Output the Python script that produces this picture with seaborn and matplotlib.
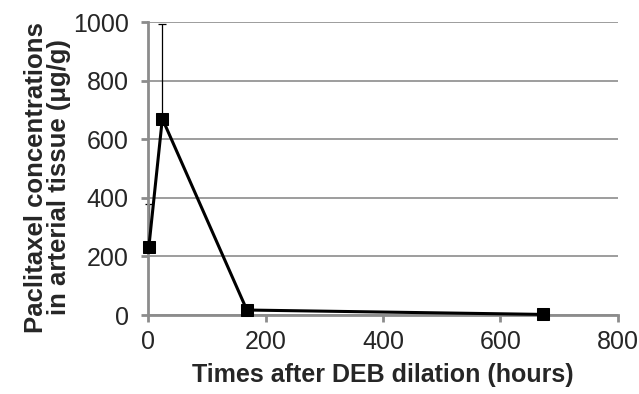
import numpy as np
import pandas as pd
import seaborn as sns
import matplotlib.pyplot as plt

# time after dilation (hours) and tissue concentration (ug/g)
hours = [1, 24, 168, 672]
conc = [232, 670, 17, 2]
err_upper = [148, 325, 0, 0]

df = pd.DataFrame({'hours': hours, 'conc': conc})

sns.set_style('white')
plt.rcParams['font.family'] = ['Liberation Sans', 'DejaVu Sans']

fig = plt.figure(figsize=(6.39, 3.94), dpi=100)
ax = fig.add_axes([0.232, 0.2005, 0.735, 0.7435])

grey = '#8c8c8c'
ax.yaxis.grid(True, color=grey, linewidth=1.2)
ax.set_axisbelow(True)

ax.errorbar(df['hours'], df['conc'], yerr=[np.zeros(len(df)), err_upper],
            fmt='none', ecolor='black', elinewidth=0.9, capsize=3,
            capthick=0.9, zorder=2)
sns.lineplot(data=df, x='hours', y='conc', ax=ax, color='black',
             linewidth=2.2, marker='s', markersize=8, markeredgecolor='black',
             zorder=3)
for ln in ax.lines:
    ln.set_clip_on(False)

ax.set_xlim(0, 800)
ax.set_ylim(0, 1000)
ax.set_xticks(range(0, 801, 200))
ax.set_yticks(range(0, 1001, 200))

for side in ['top', 'right']:
    ax.spines[side].set_visible(False)
for side in ['left', 'bottom']:
    ax.spines[side].set_color(grey)
    ax.spines[side].set_linewidth(2)

ax.tick_params(axis='both', direction='out', length=5, width=2, color=grey,
               labelsize=18, bottom=True, left=True)
ax.tick_params(axis='x', pad=6)
ax.tick_params(axis='y', pad=9)

ax.set_xlabel('Times after DEB dilation (hours)', fontsize=18,
              fontweight='bold')
ax.set_ylabel('Paclitaxel concentrations\nin arterial tissue (\u03bcg/g)',
              fontsize=18.5, fontweight='bold', linespacing=0.95)
ax.xaxis.set_label_coords(0.5, -0.164)
ax.yaxis.set_label_coords(-0.165, 0.47)

fig.savefig('out.png', dpi=100)
